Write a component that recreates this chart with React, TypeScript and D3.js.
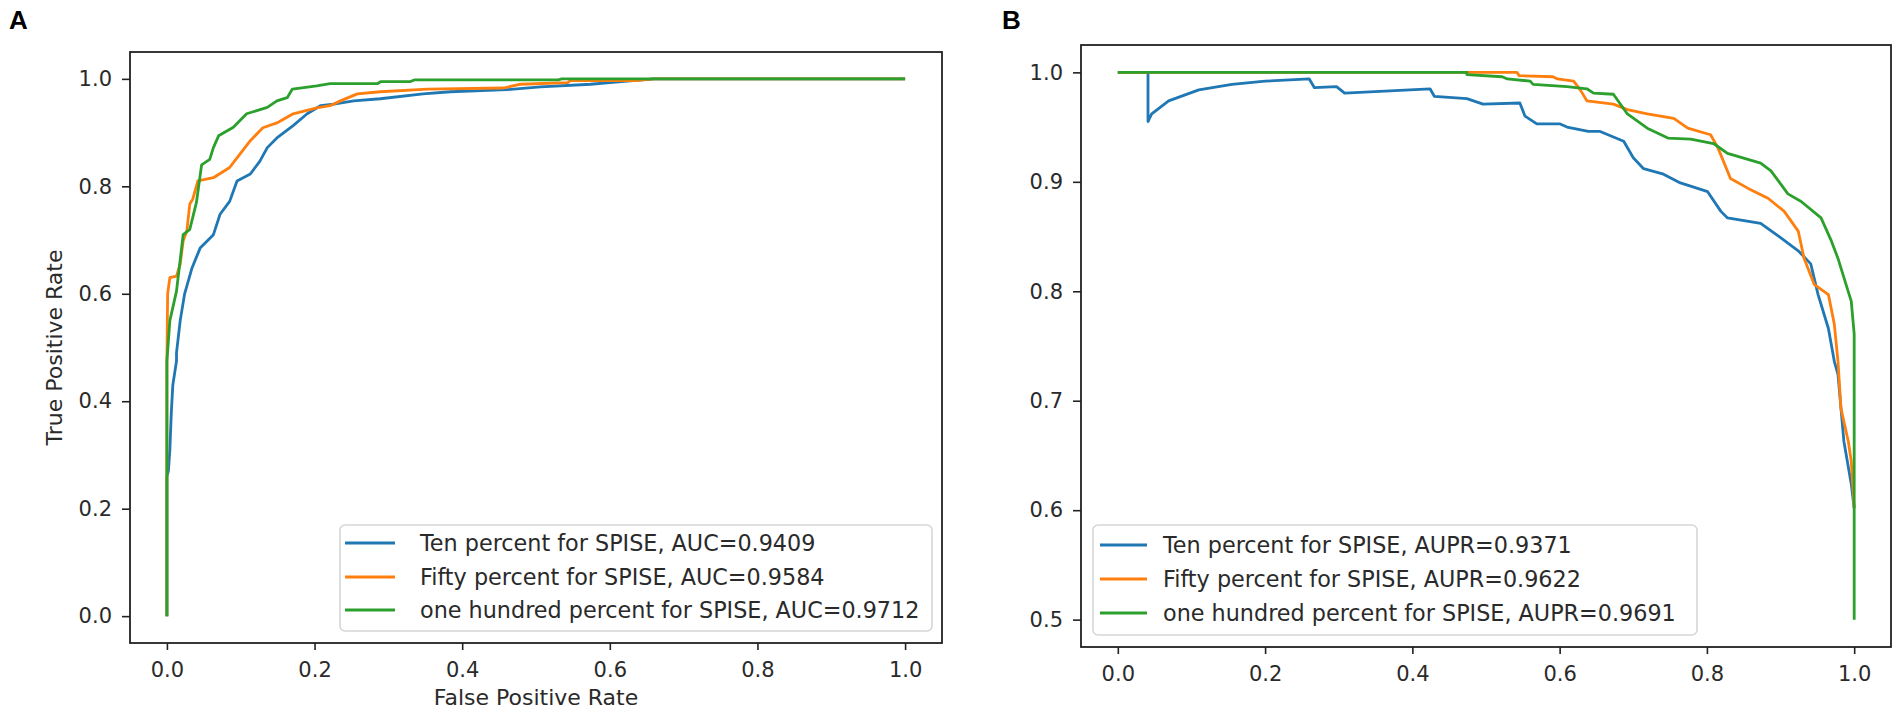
import React, { useEffect, useRef } from 'react';
import * as d3 from 'd3';

type Pt = [number, number];

// ROC curves (false positive rate, true positive rate)
const rocTen: Pt[] = [
  [0, 0], [0, 0.26], [0.002, 0.27], [0.004, 0.31], [0.006, 0.38], [0.008, 0.43],
  [0.013, 0.475], [0.013, 0.49], [0.018, 0.55], [0.024, 0.6], [0.034, 0.648],
  [0.045, 0.685], [0.063, 0.71], [0.072, 0.748], [0.085, 0.772], [0.095, 0.81],
  [0.113, 0.823], [0.126, 0.847], [0.136, 0.872], [0.149, 0.89], [0.171, 0.913],
  [0.19, 0.935], [0.208, 0.95], [0.226, 0.953], [0.253, 0.959], [0.289, 0.963],
  [0.347, 0.972], [0.384, 0.976], [0.461, 0.98], [0.506, 0.985], [0.574, 0.99],
  [0.6, 0.993], [0.66, 1.0], [1, 1],
];
const rocFifty: Pt[] = [
  [0, 0], [0, 0.475], [0.001, 0.6], [0.004, 0.63], [0.013, 0.633], [0.018, 0.655],
  [0.022, 0.698], [0.027, 0.717], [0.031, 0.767], [0.035, 0.776], [0.042, 0.81],
  [0.063, 0.816], [0.085, 0.835], [0.095, 0.853], [0.113, 0.885], [0.13, 0.909],
  [0.149, 0.918], [0.171, 0.935], [0.203, 0.946], [0.221, 0.95], [0.235, 0.959],
  [0.258, 0.972], [0.289, 0.976], [0.353, 0.981], [0.456, 0.983], [0.479, 0.99],
  [0.543, 0.993], [0.547, 0.997], [0.638, 0.997], [0.66, 1.0], [1, 1],
];
const rocHundred: Pt[] = [
  [0, 0], [0, 0.475], [0.004, 0.55], [0.013, 0.605], [0.022, 0.71], [0.031, 0.72],
  [0.04, 0.77], [0.047, 0.84], [0.058, 0.85], [0.063, 0.872], [0.07, 0.894],
  [0.09, 0.91], [0.108, 0.935], [0.136, 0.947], [0.149, 0.959], [0.163, 0.965],
  [0.17, 0.981], [0.203, 0.987], [0.221, 0.991], [0.285, 0.991], [0.29, 0.995],
  [0.33, 0.995], [0.335, 0.998], [0.53, 0.998], [0.535, 1.0], [1, 1],
];

// precision-recall curves (recall, precision)
const prTen: Pt[] = [
  [0, 1], [0.041, 1], [0.041, 0.955], [0.043, 0.958], [0.046, 0.962], [0.069, 0.974],
  [0.11, 0.984], [0.155, 0.989], [0.2, 0.992], [0.26, 0.994], [0.267, 0.986],
  [0.297, 0.987], [0.308, 0.981], [0.424, 0.985], [0.43, 0.978], [0.474, 0.976],
  [0.496, 0.971], [0.546, 0.972], [0.553, 0.96], [0.569, 0.953], [0.6, 0.953],
  [0.61, 0.95], [0.639, 0.946], [0.655, 0.946], [0.687, 0.937], [0.7, 0.922],
  [0.714, 0.912], [0.741, 0.907], [0.764, 0.899], [0.801, 0.891], [0.819, 0.873],
  [0.828, 0.867], [0.873, 0.862], [0.9, 0.849], [0.924, 0.837], [0.941, 0.825],
  [0.951, 0.797], [0.965, 0.766], [0.973, 0.736], [0.978, 0.724], [0.986, 0.663],
  [0.996, 0.624], [1, 0.602],
];
const prFifty: Pt[] = [
  [0, 1], [0.542, 1], [0.545, 0.997], [0.591, 0.996], [0.597, 0.994], [0.619, 0.992],
  [0.628, 0.984], [0.637, 0.974], [0.673, 0.971], [0.692, 0.966], [0.719, 0.962],
  [0.755, 0.958], [0.774, 0.949], [0.805, 0.943], [0.815, 0.931], [0.832, 0.903],
  [0.856, 0.894], [0.883, 0.885], [0.905, 0.873], [0.924, 0.855], [0.932, 0.83],
  [0.946, 0.806], [0.965, 0.797], [0.973, 0.77], [0.978, 0.736], [0.982, 0.693],
  [0.992, 0.663], [0.996, 0.645], [1, 0.602],
];
const prHundred: Pt[] = [
  [0, 1], [0.474, 1], [0.474, 0.998], [0.522, 0.996], [0.529, 0.994], [0.56, 0.992],
  [0.564, 0.989], [0.61, 0.987], [0.637, 0.985], [0.646, 0.981], [0.673, 0.98],
  [0.692, 0.962], [0.719, 0.949], [0.747, 0.94], [0.778, 0.939], [0.809, 0.935],
  [0.828, 0.926], [0.873, 0.917], [0.887, 0.91], [0.91, 0.889], [0.928, 0.882],
  [0.955, 0.867], [0.969, 0.846], [0.978, 0.83], [0.989, 0.806], [0.996, 0.791],
  [1, 0.761], [1, 0.5],
];

const rocLabels = [
  'Ten percent for SPISE, AUC=0.9409',
  'Fifty percent for SPISE, AUC=0.9584',
  'one hundred percent for SPISE, AUC=0.9712',
];
const prLabels = [
  'Ten percent for SPISE, AUPR=0.9371',
  'Fifty percent for SPISE, AUPR=0.9622',
  'one hundred percent for SPISE, AUPR=0.9691',
];
const rocXTicks = [0, 0.2, 0.4, 0.6, 0.8, 1.0];
const rocYTicks = [0, 0.2, 0.4, 0.6, 0.8, 1.0];
const prXTicks = [0, 0.2, 0.4, 0.6, 0.8, 1.0];
const prYTicks = [0.5, 0.6, 0.7, 0.8, 0.9, 1.0];

const colors = ['#1f77b4', '#ff7f0e', '#2ca02c'];
const FONT = 'DejaVu Sans, sans-serif';

interface PanelOpts {
  left: number;
  top: number;
  right: number;
  bottom: number;
  xDomain: [number, number];
  yDomain: [number, number];
  xTicks: number[];
  yTicks: number[];
  series: Pt[][];
  labels: string[];
  legend: { x: number; y: number; w: number; h: number; rows: number[]; hx0: number; hx1: number; tx: number };
  xLabel?: string;
  yLabel?: string;
}

function drawPanel(svg: d3.Selection<SVGSVGElement, unknown, null, undefined>, o: PanelOpts) {
  const x = d3.scaleLinear().domain(o.xDomain).range([o.left, o.right]);
  const y = d3.scaleLinear().domain(o.yDomain).range([o.bottom, o.top]);
  const g = svg.append('g');

  const line = d3
    .line<Pt>()
    .x((d) => x(d[0]))
    .y((d) => y(d[1]));

  const plot = g.append('g');
  o.series.forEach((s, i) => {
    plot
      .append('path')
      .datum(s)
      .attr('fill', 'none')
      .attr('stroke', colors[i])
      .attr('stroke-width', 2.8)
      .attr('stroke-linejoin', 'round')
      .attr('d', line);
  });

  // axes
  const xAxis = g
    .append('g')
    .attr('transform', `translate(0,${o.bottom})`)
    .call(d3.axisBottom(x).tickValues(o.xTicks).tickFormat(d3.format('.1f')).tickSize(7).tickPadding(12));
  const yAxis = g
    .append('g')
    .attr('transform', `translate(${o.left},0)`)
    .call(d3.axisLeft(y).tickValues(o.yTicks).tickFormat(d3.format('.1f')).tickSize(8).tickPadding(10));
  [xAxis, yAxis].forEach((a) => {
    a.select('.domain').remove();
    a.selectAll('line').attr('stroke', '#222').attr('stroke-width', 1.6);
    a.selectAll('text').attr('fill', '#2a2a2a').style('font-family', FONT).style('font-size', '21px');
  });

  g.append('rect')
    .attr('x', o.left)
    .attr('y', o.top)
    .attr('width', o.right - o.left)
    .attr('height', o.bottom - o.top)
    .attr('fill', 'none')
    .attr('stroke', '#222')
    .attr('stroke-width', 1.8);

  // legend
  const lg = o.legend;
  g.append('rect')
    .attr('x', lg.x)
    .attr('y', lg.y)
    .attr('width', lg.w)
    .attr('height', lg.h)
    .attr('rx', 5)
    .attr('fill', 'rgba(255,255,255,0.8)')
    .attr('stroke', '#d6d6d6')
    .attr('stroke-width', 1.6);
  o.labels.forEach((lab, i) => {
    g.append('line')
      .attr('x1', lg.hx0)
      .attr('x2', lg.hx1)
      .attr('y1', lg.rows[i])
      .attr('y2', lg.rows[i])
      .attr('stroke', colors[i])
      .attr('stroke-width', 2.8);
    g.append('text')
      .attr('x', lg.tx)
      .attr('y', lg.rows[i])
      .attr('dy', '0.36em')
      .attr('fill', '#2a2a2a')
      .style('font-family', FONT)
      .style('font-size', '22.3px')
      .text(lab);
  });

  if (o.xLabel) {
    g.append('text')
      .attr('x', (o.left + o.right) / 2)
      .attr('y', 705)
      .attr('text-anchor', 'middle')
      .attr('fill', '#2a2a2a')
      .style('font-family', FONT)
      .style('font-size', '22px')
      .text(o.xLabel);
  }
  if (o.yLabel) {
    g.append('text')
      .attr('transform', `translate(62,${(o.top + o.bottom) / 2}) rotate(-90)`)
      .attr('text-anchor', 'middle')
      .attr('fill', '#2a2a2a')
      .style('font-family', FONT)
      .style('font-size', '22px')
      .text(o.yLabel);
  }
}

export default function App() {
  const ref = useRef<SVGSVGElement>(null);

  useEffect(() => {
    const { current } = ref;
    if (!current) return;
    const svg = d3.select(current);
    svg.selectAll('*').remove();

    drawPanel(svg, {
      left: 130,
      top: 52,
      right: 942,
      bottom: 643,
      xDomain: [-0.05, 1.05],
      yDomain: [-0.05, 1.05],
      xTicks: rocXTicks,
      yTicks: rocYTicks,
      series: [rocTen, rocFifty, rocHundred],
      labels: rocLabels,
      legend: { x: 340, y: 525, w: 592, h: 106, rows: [543, 577, 610], hx0: 345, hx1: 395, tx: 420 },
      xLabel: 'False Positive Rate',
      yLabel: 'True Positive Rate',
    });

    drawPanel(svg, {
      left: 1081,
      top: 45,
      right: 1891,
      bottom: 647,
      xDomain: [-0.05, 1.05],
      yDomain: [0.475, 1.025],
      xTicks: prXTicks,
      yTicks: prYTicks,
      series: [prTen, prFifty, prHundred],
      labels: prLabels,
      legend: { x: 1093, y: 525, w: 604, h: 110, rows: [545, 579, 613], hx0: 1100, hx1: 1147, tx: 1163 },
    });

    svg
      .selectAll('text.panel')
      .data([
        { t: 'A', x: 9 },
        { t: 'B', x: 1002 },
      ])
      .join('text')
      .attr('class', 'panel')
      .attr('x', (d) => d.x)
      .attr('y', 29)
      .style('font-family', 'Liberation Sans, Arial, sans-serif')
      .style('font-weight', 'bold')
      .style('font-size', '26px')
      .text((d) => d.t);
  }, []);

  return (
    <svg
      ref={ref}
      width={1901}
      height={713}
      style={{ position: 'absolute', left: 0, top: 0, background: '#fff' }}
    />
  );
}
